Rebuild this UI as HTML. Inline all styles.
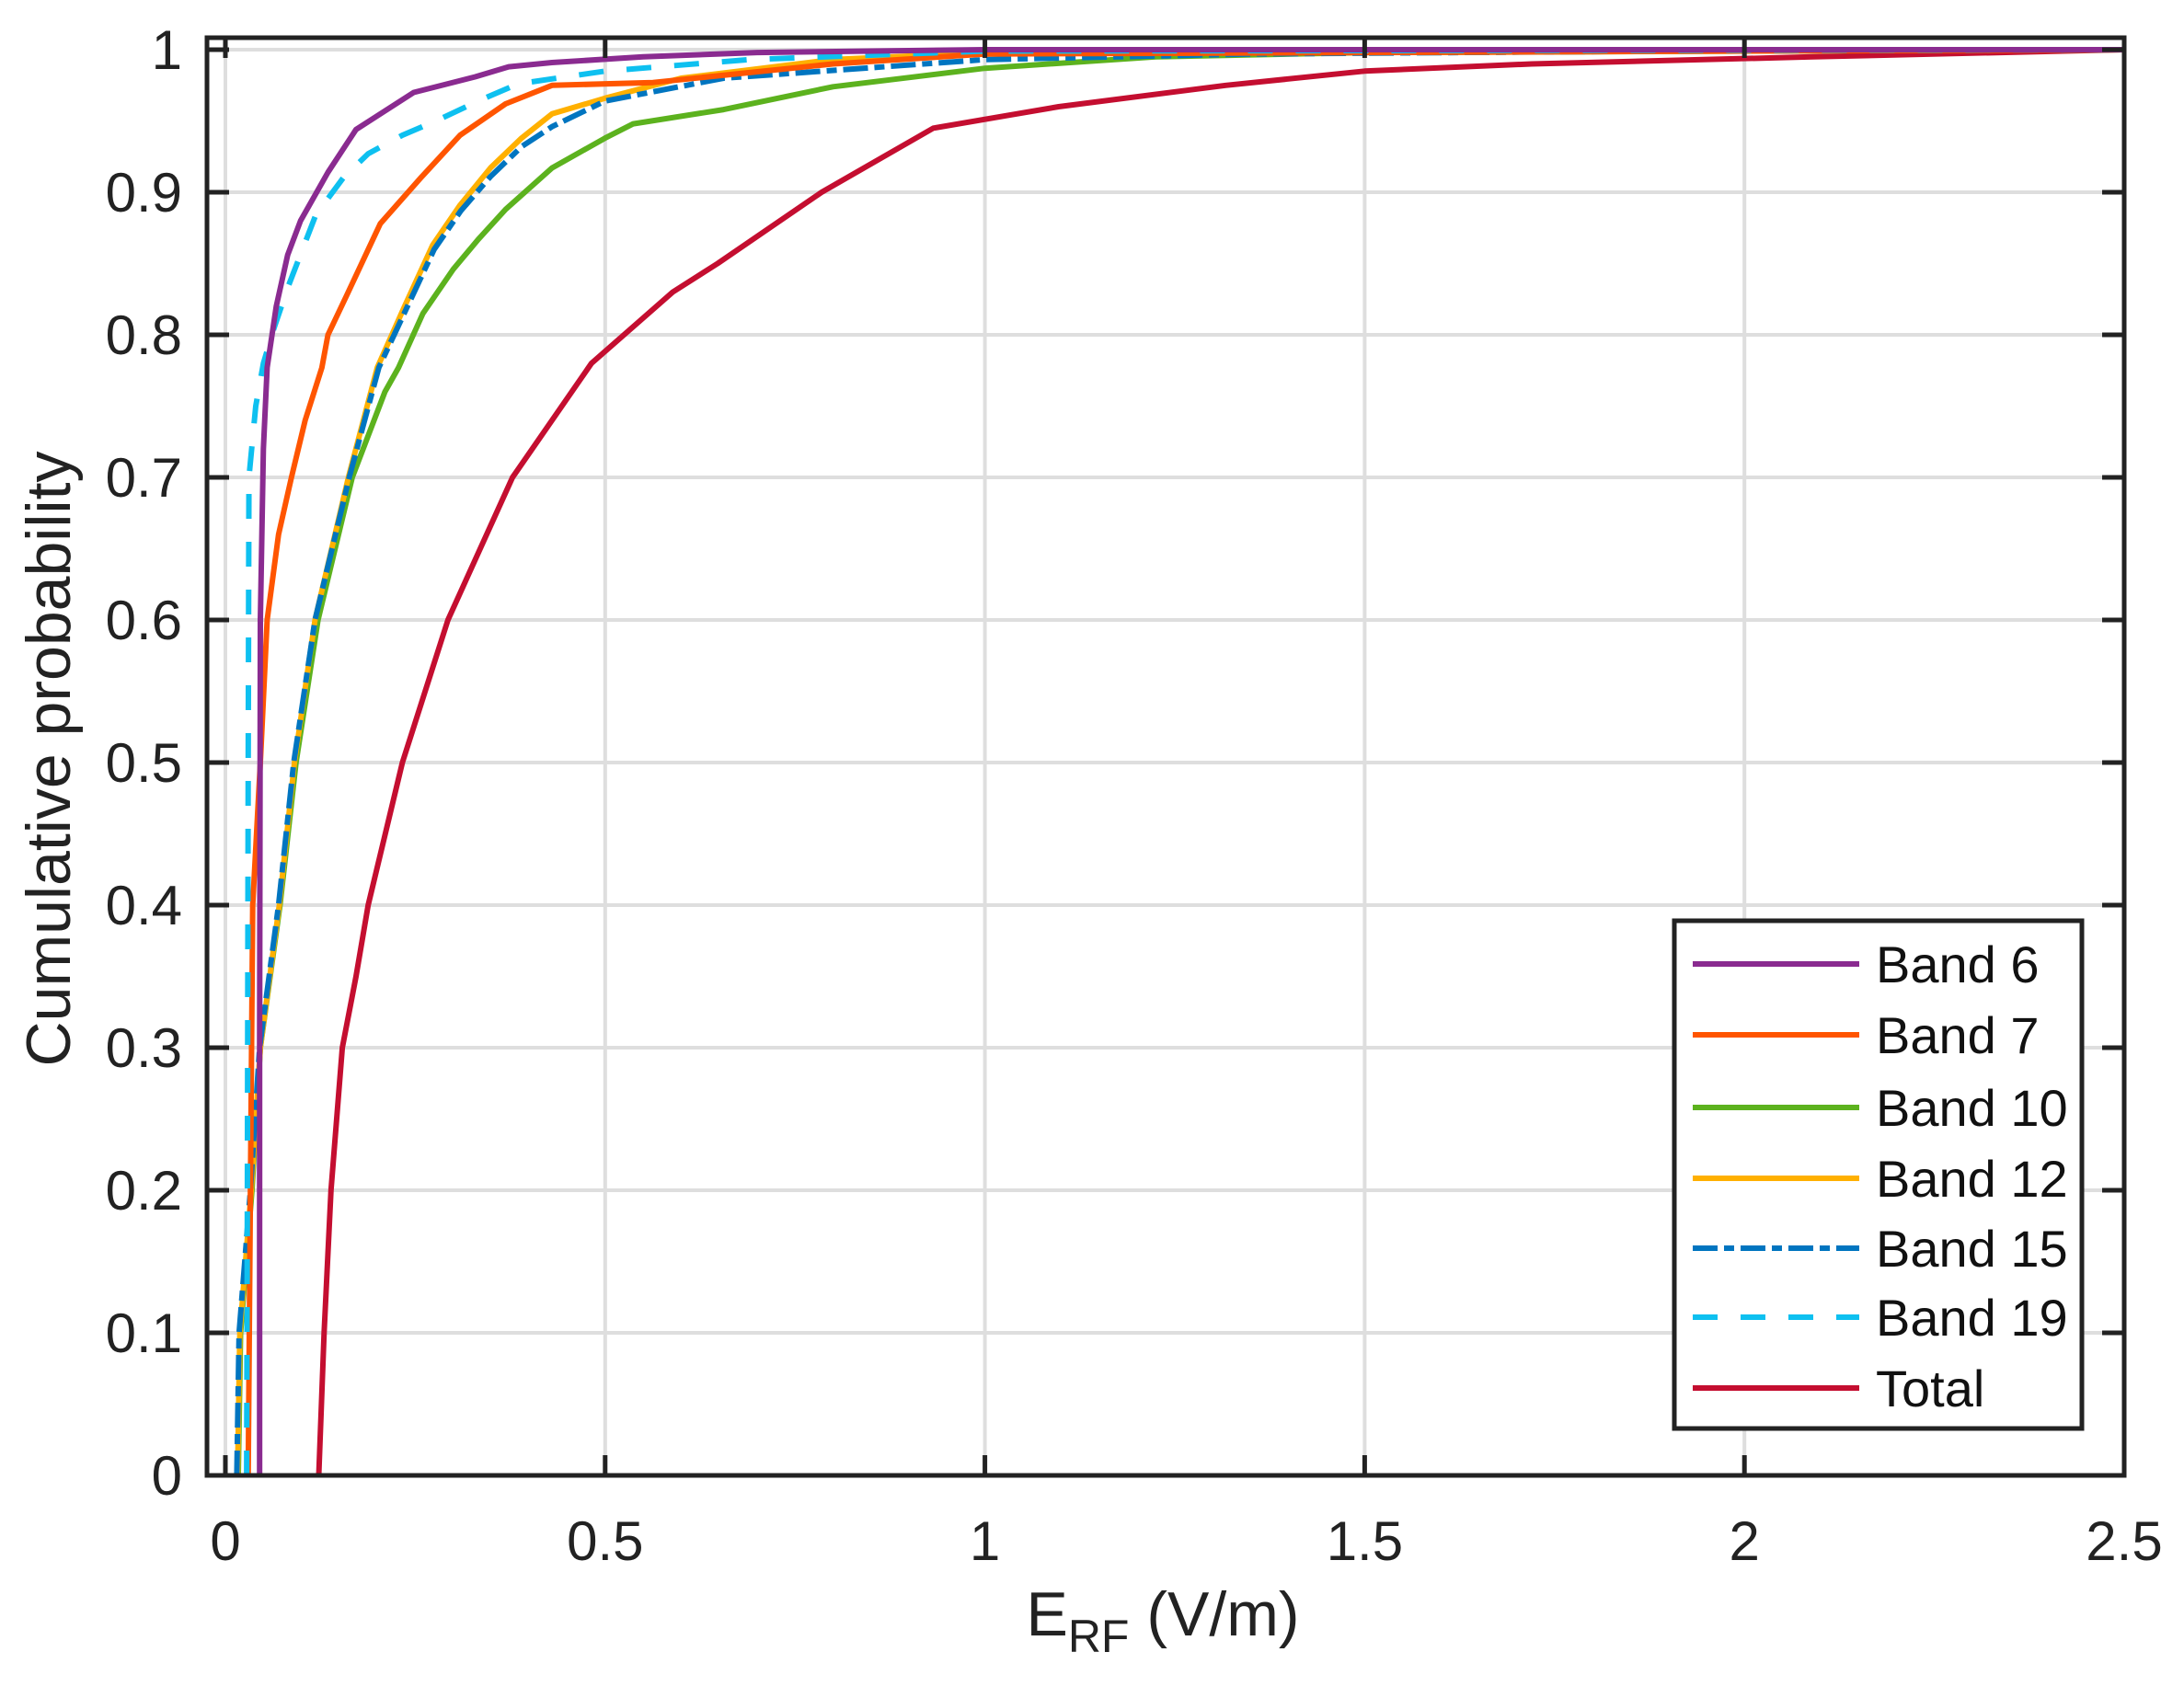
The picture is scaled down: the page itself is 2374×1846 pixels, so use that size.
<!DOCTYPE html>
<html><head><meta charset="utf-8">
<style>
html,body{margin:0;padding:0;background:#fff;}
svg{display:block;font-family:"Liberation Sans",Arial,sans-serif;}
</style></head>
<body>
<svg id="chart" width="2374" height="1846" viewBox="0 0 2374 1846"></svg>
<script>
const xTicks=[0,0.5,1,1.5,2,2.5];
const xTickLabels=["0","0.5","1","1.5","2","2.5"];
const yTicks=[0,0.1,0.2,0.3,0.4,0.5,0.6,0.7,0.8,0.9,1];
const yTickLabels=["0","0.1","0.2","0.3","0.4","0.5","0.6","0.7","0.8","0.9","1"];
const seriesNames=["Band 6","Band 7","Band 10","Band 12","Band 15","Band 19","Total"];
const band6X=[0.045,0.045,0.046,0.05,0.055,0.067,0.082,0.099,0.135,0.172,0.248,0.329,0.373,0.43,0.55,0.7,1.0,2.5];
const band6Y=[0,0.3,0.6,0.72,0.777,0.82,0.856,0.88,0.914,0.944,0.97,0.981,0.988,0.991,0.995,0.998,1.0,1.0];
const band7X=[0.03,0.033,0.036,0.046,0.055,0.07,0.087,0.105,0.127,0.135,0.16,0.204,0.257,0.309,0.369,0.43,0.563,0.8,1.0,2.5];
const band7Y=[0,0.2,0.4,0.5,0.6,0.66,0.7,0.74,0.777,0.8,0.828,0.878,0.91,0.94,0.962,0.975,0.977,0.99,0.997,1.0];
const band10X=[0.017,0.02,0.035,0.046,0.072,0.093,0.122,0.167,0.21,0.228,0.26,0.3,0.333,0.369,0.43,0.5,0.537,0.656,0.8,1.0,1.225,1.5,2.5];
const band10Y=[0,0.1,0.2,0.3,0.4,0.5,0.6,0.7,0.76,0.777,0.815,0.846,0.867,0.888,0.917,0.938,0.948,0.958,0.974,0.987,0.995,0.998,1.0];
const band12X=[0.016,0.019,0.034,0.046,0.071,0.091,0.118,0.162,0.2,0.236,0.273,0.309,0.349,0.39,0.43,0.5,0.6,0.8,1.0,2.5];
const band12Y=[0,0.1,0.2,0.3,0.4,0.5,0.6,0.7,0.777,0.82,0.863,0.891,0.917,0.938,0.955,0.966,0.98,0.993,0.998,1.0];
const band15X=[0.015,0.018,0.033,0.045,0.07,0.09,0.118,0.163,0.202,0.238,0.275,0.31,0.349,0.39,0.43,0.5,0.656,1.0,1.35,1.9,2.5];
const band15Y=[0,0.1,0.2,0.3,0.4,0.5,0.6,0.7,0.777,0.818,0.86,0.887,0.911,0.932,0.946,0.964,0.98,0.993,0.997,0.999,1.0];
const band19X=[0.028,0.029,0.03,0.031,0.04,0.05,0.063,0.082,0.119,0.155,0.188,0.233,0.281,0.333,0.385,0.5,0.69,1.0,2.5];
const band19Y=[0,0.2,0.5,0.7,0.75,0.78,0.803,0.833,0.884,0.91,0.927,0.94,0.951,0.964,0.976,0.985,0.993,0.999,1.0];
const totalX=[0.123,0.13,0.139,0.154,0.172,0.188,0.233,0.293,0.378,0.482,0.589,0.648,0.785,0.932,1.097,1.317,1.5,1.72,2.09,2.5];
const totalY=[0,0.1,0.2,0.3,0.35,0.4,0.5,0.6,0.7,0.78,0.83,0.85,0.9,0.945,0.96,0.975,0.985,0.99,0.995,1.0];

const NS="http://www.w3.org/2000/svg";
const svg=document.getElementById('chart');
const L=225,R=2309,T=41,B=1604;
const X0=245,XU=(2309-245)/2.5;
function sx(v){return X0+v*XU;}
function sy(v){return 1604-v*1550;}
function mk(tag,attrs,parent){const e=document.createElementNS(NS,tag);for(const k in attrs)e.setAttribute(k,attrs[k]);(parent||svg).appendChild(e);return e;}

const grid=mk('g',{});


xTicks.forEach(v=>{const l=mk('line',{x1:sx(v),x2:sx(v),y1:T,y2:B,stroke:'#dedede','stroke-width':4},grid);

});
yTicks.forEach(v=>{const l=mk('line',{x1:L,x2:R,y1:sy(v),y2:sy(v),stroke:'#dedede','stroke-width':4},grid);

});

const colors=["#8a2b90","#ff5500","#5cb21e","#ffb000","#0075c0","#0ec0f0","#c40e30"];
const dashes=["","","","","27 7 11 7","27 25",""];
const xs=[band6X,band7X,band10X,band12X,band15X,band19X,totalX];
const ys=[band6Y,band7Y,band10Y,band12Y,band15Y,band19Y,totalY];
const slugs=["band-6","band-7","band-10","band-12","band-15","band-19","total"];
const order=[6,2,3,4,1,5,0];
order.forEach(i=>{
  const d=xs[i].map((x,j)=>(j?'L':'M')+sx(x).toFixed(1)+' '+sy(ys[i][j]).toFixed(1)).join(' ');
  const p=mk('path',{d:d,fill:'none',stroke:colors[i],'stroke-width':6,'stroke-linejoin':'round'});
  if(dashes[i])p.setAttribute('stroke-dasharray',dashes[i]);
  
  
});

const ax=mk('g',{});


mk('rect',{x:L,y:T,width:R-L,height:B-T,fill:'none',stroke:'#222','stroke-width':5},ax);
xTicks.forEach((v,i)=>{
  mk('line',{x1:sx(v),x2:sx(v),y1:B,y2:B-22,stroke:'#222','stroke-width':5},ax);
  mk('line',{x1:sx(v),x2:sx(v),y1:T,y2:T+22,stroke:'#222','stroke-width':5},ax);
  const t=mk('text',{x:sx(v),y:1696,'text-anchor':'middle','font-size':60,fill:'#222'});
  t.textContent=xTickLabels[i];
  
  
});
yTicks.forEach((v,i)=>{
  mk('line',{x1:L,x2:L+24,y1:sy(v),y2:sy(v),stroke:'#222','stroke-width':5},ax);
  mk('line',{x1:R,x2:R-24,y1:sy(v),y2:sy(v),stroke:'#222','stroke-width':5},ax);
  const t=mk('text',{x:198,y:sy(v)+21,'text-anchor':'end','font-size':60,fill:'#222'});
  t.textContent=yTickLabels[i];
  
  
});
const xt=mk('text',{x:1264,y:1778,'text-anchor':'middle','font-size':68,fill:'#222'});
xt.innerHTML='E<tspan font-size="50" dy="18">RF</tspan><tspan dy="-18"> (V/m)</tspan>';


const yt=mk('text',{x:0,y:0,'text-anchor':'middle','font-size':68,fill:'#222',transform:'translate(76,825) rotate(-90)'});
yt.textContent='Cumulative probability';



const lg=mk('g',{});


mk('rect',{x:1820,y:1001,width:443,height:552,fill:'#fff',stroke:'#222','stroke-width':5},lg);
const rowY=[1048,1125,1204,1281,1357,1432,1509];
seriesNames.forEach((n,i)=>{
  const ln=mk('line',{x1:1840,x2:2021,y1:rowY[i],y2:rowY[i],stroke:colors[i],'stroke-width':6},lg);
  if(dashes[i])ln.setAttribute('stroke-dasharray',dashes[i]);
  const t=mk('text',{x:2039,y:rowY[i]+20,'font-size':56,fill:'#111'},lg);
  t.textContent=n;
  
  
});
</script>
</body></html>
